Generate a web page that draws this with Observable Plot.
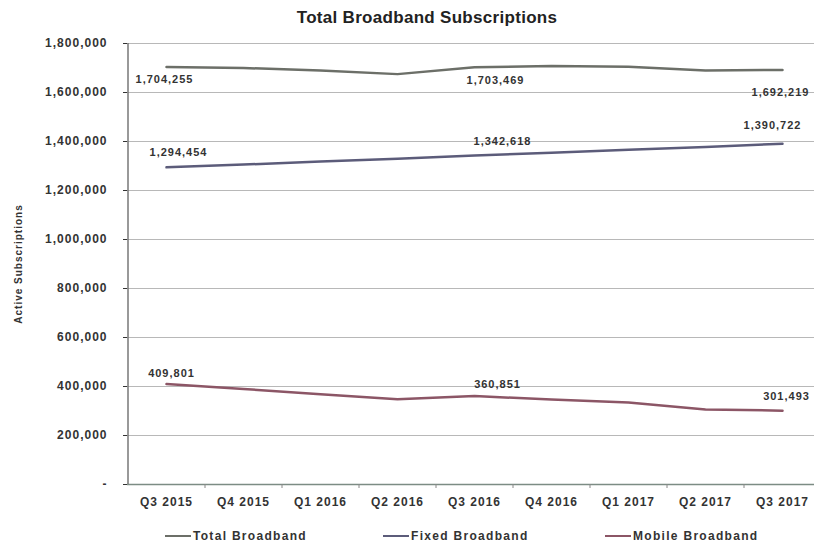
<!DOCTYPE html>
<html>
<head>
<meta charset="utf-8">
<script src="https://cdn.jsdelivr.net/npm/d3@7"></script>
<script src="https://cdn.jsdelivr.net/npm/@observablehq/plot@0.6"></script>
<style>
  html, body { margin: 0; padding: 0; background: #fff; width: 814px; height: 546px; overflow: hidden; }
  body { font-family: "Liberation Sans", Arial, sans-serif; }
  #title { height: 30px; line-height: 36px; text-align: center; font-weight: bold; font-size: 17px; letter-spacing: 0.3px; color: #222; padding-left: 40px; }
  #chart svg { display: block; overflow: visible; }
  #legend { position: relative; height: 30px; font-size: 12px; letter-spacing: 1.3px; font-weight: bold; color: #333; }
  .item { position: absolute; top: 15px; display: flex; align-items: center; }
  .swatch { width: 26px; height: 0; border-top: 2.5px solid; margin-right: 2px; }
</style>
</head>
<body>
<div id="title">Total Broadband Subscriptions</div>
<div id="chart"></div>
<div id="legend"></div>
<script>
const quarters = ["Q3 2015","Q4 2015","Q1 2016","Q2 2016","Q3 2016","Q4 2016","Q1 2017","Q2 2017","Q3 2017"];
const seriesNames = ["Total Broadband","Fixed Broadband","Mobile Broadband"];
const totalValues  = [1704255, 1700000, 1690000, 1675000, 1703469, 1708000, 1705000, 1690000, 1692219];
const fixedValues  = [1294454, 1306000, 1318000, 1330000, 1342618, 1354000, 1366000, 1378000, 1390722];
const mobileValues = [409801, 390000, 368000, 348000, 360851, 347000, 335000, 306000, 301493];
const yTicks = [0, 200000, 400000, 600000, 800000, 1000000, 1200000, 1400000, 1600000, 1800000];
const labelIndices = [0, 4, 8];
const yTitle = "Active Subscriptions";

const colors = ["#6c6f68", "#5c5c7a", "#8c5666"];
const allValues = [totalValues, fixedValues, mobileValues];

const data = [];
seriesNames.forEach((s, si) => quarters.forEach((q, i) => data.push({series: s, quarter: q, value: allValues[si][i], idx: i})));

// label offsets (style only): [dx, dy] for each series label at indices 0,4,8
const labelOffsets = [
  [[-2, 13], [21, 13], [-2, 23]],
  [[12, -15], [28, -14], [-10, -18]],
  [[5, -11], [23, -12], [4, -14]]
];

const fmt = d3.format(",");
const yMax = yTicks[yTicks.length - 1];
const marks = [
  Plot.ruleY(yTicks.filter(d => d > 0), {stroke: "#b8b8b8", strokeWidth: 1}),
  Plot.ruleY([0], {stroke: "#7c8c84", strokeWidth: 1.5}),
  Plot.ruleX([quarters[0]], {x: d => d, dx: -38.5, y1: () => 0, y2: () => yMax, stroke: "#777", strokeWidth: 1.5}),
  Plot.ruleX(quarters.slice(1), {x: d => d, dx: -38.5, y1: () => 0, y2: () => 0, insetBottom: -4, stroke: "#888"}),
  Plot.text([yTitle], {text: d => d, frameAnchor: "left", textAnchor: "middle", dx: -109, rotate: -90, fontSize: 10, fontWeight: "bold", fill: "#333", letterSpacing: 0.5})
];
seriesNames.forEach((s, si) => {
  marks.push(Plot.line(data.filter(d => d.series === s), {x: "quarter", y: "value", stroke: colors[si], strokeWidth: 2.5}));
  labelIndices.forEach((li, k) => {
    marks.push(Plot.text(data.filter(d => d.series === s && d.idx === li), {
      x: "quarter", y: "value", text: d => fmt(d.value),
      dx: labelOffsets[si][k][0], dy: labelOffsets[si][k][1],
      fontSize: 11, fontWeight: "bold", fill: "#333", letterSpacing: 1.1
    }));
  });
});

const chart = Plot.plot({
  width: 814,
  height: 484,
  marginTop: 13,
  marginLeft: 127,
  marginRight: 0,
  marginBottom: 30,
  style: {fontFamily: "Liberation Sans, Arial, sans-serif", fontSize: "12px", fontWeight: "bold", letterSpacing: "1px", color: "#333", background: "#fff"},
  x: {type: "point", domain: quarters, range: [127, 820], padding: 0.5, label: null, tickSize: 0, tickPadding: 13},
  y: {type: "linear", domain: [0, yMax], ticks: yTicks, tickFormat: d => d === 0 ? "-" : fmt(d), label: null, tickSize: 4, tickPadding: 16},
  marks
});
document.getElementById("chart").appendChild(chart);

const legend = document.getElementById("legend");
const lx = [165, 383, 605];
seriesNames.forEach((s, i) => {
  const it = document.createElement("div");
  it.className = "item";
  it.style.left = lx[i] + "px";
  it.innerHTML = `<span class="swatch" style="border-color:${colors[i]}"></span><span>${s}</span>`;
  legend.appendChild(it);
});
</script>
</body>
</html>
